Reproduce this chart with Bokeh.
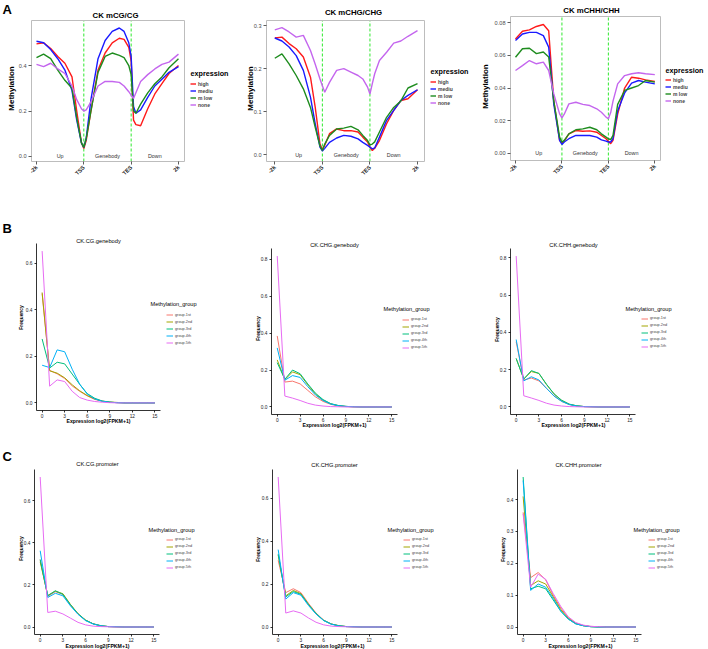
import math
from bokeh.plotting import figure
from bokeh.layouts import row, column
from bokeh.models import (Range1d, FixedTicker, PrintfTickFormatter, Label,
                          Legend, LegendItem)
from bokeh.embed import file_html
from bokeh.resources import INLINE

# ---------------------------------------------------------------- data
profile_ticks = [0, 20, 40, 60]
profile_tick_labels = ["-2k", "TSS", "TES", "2k"]
region_names = ["Up", "Genebody", "Down"]
region_centers = [10, 30, 50]
expression_levels = ["high", "mediu", "m low", "none"]

cg_pos = [0, 3, 6, 9, 12, 15, 17, 19, 20, 21, 23, 26, 29, 32, 35, 37, 39, 40, 41, 42, 44, 47, 50, 53, 56, 60]
cg_high = [0.495, 0.50, 0.475, 0.44, 0.41, 0.35, 0.20, 0.06, 0.035, 0.07, 0.20, 0.38, 0.455, 0.50, 0.52, 0.515, 0.48, 0.42, 0.16, 0.14, 0.135, 0.21, 0.275, 0.32, 0.365, 0.40]
cg_mediu = [0.507, 0.50, 0.47, 0.43, 0.38, 0.29, 0.16, 0.06, 0.04, 0.08, 0.25, 0.43, 0.51, 0.55, 0.565, 0.55, 0.50, 0.44, 0.22, 0.19, 0.205, 0.26, 0.31, 0.34, 0.37, 0.395]
cg_mlow = [0.435, 0.45, 0.43, 0.38, 0.335, 0.30, 0.17, 0.06, 0.04, 0.08, 0.20, 0.37, 0.44, 0.455, 0.445, 0.435, 0.40, 0.36, 0.20, 0.19, 0.23, 0.28, 0.32, 0.35, 0.39, 0.43]
cg_none = [0.405, 0.395, 0.41, 0.385, 0.365, 0.31, 0.25, 0.21, 0.20, 0.205, 0.24, 0.31, 0.33, 0.33, 0.326, 0.31, 0.285, 0.27, 0.255, 0.28, 0.33, 0.36, 0.385, 0.405, 0.415, 0.45]

chg_pos = [0, 3, 6, 9, 12, 15, 17, 19, 20, 21, 23, 26, 29, 32, 35, 37, 39, 40, 41, 42, 44, 47, 50, 53, 56, 60]
chg_high = [0.271, 0.273, 0.258, 0.246, 0.227, 0.18, 0.11, 0.025, 0.012, 0.022, 0.049, 0.06, 0.056, 0.056, 0.053, 0.041, 0.03, 0.018, 0.01, 0.015, 0.033, 0.072, 0.103, 0.126, 0.13, 0.151]
chg_mediu = [0.271, 0.264, 0.25, 0.23, 0.196, 0.134, 0.072, 0.018, 0.009, 0.015, 0.029, 0.039, 0.045, 0.043, 0.037, 0.029, 0.022, 0.018, 0.014, 0.016, 0.041, 0.08, 0.103, 0.126, 0.138, 0.151]
chg_mlow = [0.224, 0.234, 0.211, 0.184, 0.153, 0.11, 0.064, 0.02, 0.01, 0.025, 0.045, 0.06, 0.062, 0.066, 0.058, 0.045, 0.033, 0.023, 0.025, 0.03, 0.053, 0.087, 0.11, 0.125, 0.155, 0.165]
chg_none = [0.29, 0.295, 0.285, 0.273, 0.277, 0.242, 0.21, 0.176, 0.16, 0.145, 0.168, 0.196, 0.2, 0.192, 0.184, 0.176, 0.157, 0.141, 0.165, 0.188, 0.219, 0.238, 0.259, 0.264, 0.275, 0.288]

chh_pos = [0, 3, 6, 9, 12, 14.3, 16.5, 19, 20, 21, 23, 26, 29, 32, 35, 37, 39, 40, 41, 42, 44, 47, 50, 53, 56, 60]
chh_high = [0.070, 0.0747, 0.0755, 0.0776, 0.0788, 0.075, 0.032, 0.008, 0.0063, 0.0075, 0.012, 0.014, 0.0136, 0.0138, 0.013, 0.011, 0.009, 0.0075, 0.006, 0.008, 0.024, 0.040, 0.0466, 0.046, 0.045, 0.044]
chh_mediu = [0.069, 0.073, 0.074, 0.074, 0.072, 0.065, 0.030, 0.008, 0.0055, 0.007, 0.009, 0.011, 0.011, 0.011, 0.010, 0.0083, 0.0075, 0.007, 0.007, 0.009, 0.026, 0.037, 0.043, 0.0446, 0.0436, 0.0425]
chh_mlow = [0.0588, 0.064, 0.0643, 0.061, 0.062, 0.059, 0.032, 0.01, 0.0069, 0.008, 0.012, 0.0145, 0.015, 0.016, 0.0145, 0.012, 0.01, 0.009, 0.0085, 0.011, 0.030, 0.0385, 0.040, 0.0415, 0.0446, 0.0436]
chh_none = [0.0507, 0.0537, 0.0568, 0.0548, 0.0558, 0.0507, 0.0364, 0.0242, 0.0218, 0.024, 0.0303, 0.0313, 0.030, 0.0293, 0.0273, 0.0252, 0.0222, 0.0212, 0.025, 0.032, 0.0425, 0.0476, 0.0487, 0.0493, 0.0487, 0.0482]

expr_bins = list(range(16))
expr_ticks = [0, 3, 6, 9, 12, 15]
meth_groups = ["group.1st", "group.2nd", "group.3rd", "group.4th", "group.5th"]

gb_cg_1st = [0.47, 0.14, 0.125, 0.105, 0.073, 0.05, 0.03, 0.015, 0.007, 0.003, 0.001, 0, 0, 0, 0, 0]
gb_cg_2nd = [0.475, 0.138, 0.128, 0.108, 0.078, 0.052, 0.032, 0.017, 0.008, 0.004, 0.002, 0, 0, 0, 0, 0]
gb_cg_3rd = [0.275, 0.15, 0.175, 0.168, 0.124, 0.08, 0.04, 0.02, 0.008, 0.003, 0.001, 0, 0, 0, 0, 0]
gb_cg_4th = [0.162, 0.152, 0.228, 0.22, 0.145, 0.08, 0.038, 0.017, 0.007, 0.003, 0.001, 0, 0, 0, 0, 0]
gb_cg_5th = [0.653, 0.072, 0.099, 0.092, 0.05, 0.023, 0.012, 0.006, 0.003, 0.001, 0, 0, 0, 0, 0, 0]

gb_chg_1st = [0.385, 0.135, 0.14, 0.125, 0.09, 0.055, 0.03, 0.014, 0.006, 0.002, 0.001, 0, 0, 0, 0, 0]
gb_chg_2nd = [0.255, 0.148, 0.19, 0.175, 0.12, 0.07, 0.037, 0.017, 0.007, 0.003, 0.001, 0, 0, 0, 0, 0]
gb_chg_3rd = [0.24, 0.15, 0.2, 0.18, 0.125, 0.075, 0.04, 0.018, 0.008, 0.003, 0.001, 0, 0, 0, 0, 0]
gb_chg_4th = [0.32, 0.145, 0.17, 0.16, 0.11, 0.065, 0.035, 0.016, 0.007, 0.003, 0.001, 0, 0, 0, 0, 0]
gb_chg_5th = [0.818, 0.059, 0.048, 0.035, 0.02, 0.01, 0.005, 0.002, 0.001, 0, 0, 0, 0, 0, 0, 0]

gb_chh_1st = [0.35, 0.145, 0.155, 0.14, 0.1, 0.06, 0.03, 0.013, 0.005, 0.002, 0.001, 0, 0, 0, 0, 0]
gb_chh_2nd = [0.26, 0.15, 0.19, 0.18, 0.12, 0.07, 0.035, 0.015, 0.006, 0.002, 0.001, 0, 0, 0, 0, 0]
gb_chh_3rd = [0.26, 0.15, 0.195, 0.18, 0.122, 0.07, 0.036, 0.015, 0.006, 0.002, 0.001, 0, 0, 0, 0, 0]
gb_chh_4th = [0.362, 0.14, 0.162, 0.145, 0.1, 0.058, 0.03, 0.013, 0.005, 0.002, 0.001, 0, 0, 0, 0, 0]
gb_chh_5th = [0.81, 0.06, 0.048, 0.035, 0.02, 0.01, 0.005, 0.002, 0.001, 0, 0, 0, 0, 0, 0, 0]

pr_cg_1st = [0.32, 0.145, 0.168, 0.155, 0.105, 0.062, 0.032, 0.015, 0.006, 0.002, 0.001, 0, 0, 0, 0, 0]
pr_cg_2nd = [0.31, 0.15, 0.17, 0.158, 0.107, 0.063, 0.033, 0.015, 0.006, 0.002, 0.001, 0, 0, 0, 0, 0]
pr_cg_3rd = [0.32, 0.148, 0.172, 0.155, 0.105, 0.062, 0.032, 0.015, 0.006, 0.002, 0.001, 0, 0, 0, 0, 0]
pr_cg_4th = [0.362, 0.14, 0.16, 0.148, 0.1, 0.06, 0.03, 0.014, 0.006, 0.002, 0.001, 0, 0, 0, 0, 0]
pr_cg_5th = [0.712, 0.069, 0.075, 0.062, 0.042, 0.022, 0.01, 0.004, 0.002, 0.001, 0, 0, 0, 0, 0, 0]

pr_chg_1st = [0.31, 0.16, 0.178, 0.16, 0.11, 0.065, 0.032, 0.014, 0.006, 0.002, 0.001, 0, 0, 0, 0, 0]
pr_chg_2nd = [0.335, 0.145, 0.17, 0.155, 0.105, 0.062, 0.031, 0.014, 0.006, 0.002, 0.001, 0, 0, 0, 0, 0]
pr_chg_3rd = [0.34, 0.14, 0.165, 0.152, 0.105, 0.062, 0.031, 0.014, 0.006, 0.002, 0.001, 0, 0, 0, 0, 0]
pr_chg_4th = [0.36, 0.13, 0.16, 0.148, 0.1, 0.06, 0.03, 0.013, 0.005, 0.002, 0.001, 0, 0, 0, 0, 0]
pr_chg_5th = [0.698, 0.065, 0.075, 0.065, 0.042, 0.022, 0.01, 0.004, 0.002, 0.001, 0, 0, 0, 0, 0, 0]

pr_chh_1st = [0.36, 0.155, 0.171, 0.148, 0.1, 0.06, 0.03, 0.012, 0.005, 0.002, 0.001, 0, 0, 0, 0, 0]
pr_chh_2nd = [0.41, 0.13, 0.145, 0.135, 0.095, 0.055, 0.027, 0.011, 0.004, 0.001, 0, 0, 0, 0, 0, 0]
pr_chh_3rd = [0.471, 0.12, 0.128, 0.12, 0.085, 0.05, 0.025, 0.01, 0.004, 0.001, 0, 0, 0, 0, 0, 0]
pr_chh_4th = [0.46, 0.115, 0.135, 0.125, 0.09, 0.05, 0.025, 0.01, 0.004, 0.001, 0, 0, 0, 0, 0, 0]
pr_chh_5th = [0.355, 0.125, 0.166, 0.15, 0.105, 0.065, 0.032, 0.014, 0.006, 0.002, 0.001, 0, 0, 0, 0, 0]

# ---------------------------------------------------------------- style
FONT = "Liberation Sans"
EXPR_COLORS = ["#FF1A1A", "#1A1AFF", "#1E8C1E", "#C466EE"]
GROUP_COLORS = ["#F8766D", "#A3A500", "#00BF7D", "#00B0F6", "#E76BF3"]
TSS_COLOR = "#2EE82E"


class Panel:
    """One cell of the page; the visible plot box (frame) sits inside the cell and the
    axes are pinned to its edges so that all outer texts stay on the canvas."""

    def __init__(self, cell, frame, xr, yr):
        cx, cy, cw, ch = cell
        l, t, r, b = frame
        sx = (r - l) / (xr[1] - xr[0])
        sy = (b - t) / (yr[1] - yr[0])
        self.X = (xr[0] - (l - cx) / sx, xr[1] + (cx + cw - r) / sx)
        self.Y = (yr[0] - (cy + ch - b) / sy, yr[1] + (t - cy) / sy)
        self.cell, self.xr, self.yr = cell, xr, yr
        p = figure(width=cw, height=ch, x_range=Range1d(*self.X), y_range=Range1d(*self.Y),
                   min_border=0, min_border_left=0, min_border_right=0,
                   min_border_top=0, min_border_bottom=0,
                   toolbar_location=None, output_backend="svg", title=None)
        p.outline_line_color = None
        p.grid.visible = False
        p.background_fill_color = "white"
        p.border_fill_color = "white"
        p.xaxis.fixed_location = yr[0]
        p.yaxis.fixed_location = xr[0]
        p.xaxis.bounds = xr
        p.yaxis.bounds = yr
        self.p = p

    def dx(self, px):
        cx, cy, cw, ch = self.cell
        return self.X[0] + (px - cx) / cw * (self.X[1] - self.X[0])

    def dy(self, py):
        cx, cy, cw, ch = self.cell
        return self.Y[1] - (py - cy) / ch * (self.Y[1] - self.Y[0])

    def text(self, px, py, s, size, bold=False, angle=0.0, align="center", color="#000000"):
        self.p.add_layout(Label(x=self.dx(px), y=self.dy(py), text=s, text_font=FONT,
                                text_font_size=size, text_font_style="bold" if bold else "normal",
                                text_align=align, text_baseline="middle", angle=angle,
                                text_color=color))

    def legend(self, renderers, labels, key_left, first_center, item_h, size, glyph_w, bold):
        cx, cy, cw, ch = self.cell
        top = first_center - item_h / 2.0
        bottom = top + len(labels) * item_h
        items = [LegendItem(label=lab, renderers=[rr]) for lab, rr in zip(labels, renderers)]
        leg = Legend(items=items, location=(key_left - cx, cy + ch - bottom))
        leg.border_line_color = None
        leg.background_fill_alpha = 0
        leg.padding = 0
        leg.margin = 0
        leg.spacing = 0
        leg.glyph_width = glyph_w
        leg.glyph_height = int(round(item_h))
        leg.label_height = int(round(item_h))
        leg.label_standoff = 2
        leg.label_text_font = FONT
        leg.label_text_font_size = size
        leg.label_text_font_style = "bold" if bold else "normal"
        leg.label_text_baseline = "middle"
        self.p.add_layout(leg)


def style_axes(p, size, color, tick_color, tick_out, line_color, line_width):
    for ax in (p.xaxis[0], p.yaxis[0]):
        ax.axis_line_color = line_color
        ax.axis_line_width = line_width
        ax.major_tick_line_color = tick_color
        ax.major_tick_line_width = 0.8
        ax.major_tick_out = tick_out
        ax.major_tick_in = 0
        ax.minor_tick_out = 0
        ax.minor_tick_in = 0
        ax.major_label_text_font = FONT
        ax.major_label_text_font_size = size
        ax.major_label_text_color = color
        ax.major_label_standoff = 2


def profile_panel(cell, frame, xr, yr, yticks, fmt, pos, series, title, title_xy,
                  ylab_xy, leg_spec):
    pn = Panel(cell, frame, xr, yr)
    p = pn.p
    style_axes(p, "5.6px", "#4D4D4D", "#333333", 3, None, 1)
    p.yaxis.ticker = FixedTicker(ticks=yticks)
    p.yaxis.formatter = PrintfTickFormatter(format=fmt)
    p.xaxis.ticker = FixedTicker(ticks=profile_ticks)
    p.xaxis.major_label_overrides = {t: s for t, s in zip(profile_ticks, profile_tick_labels)}
    p.xaxis.major_label_orientation = math.pi / 4
    p.xaxis.major_label_text_font_style = "bold"
    p.xaxis.major_label_text_color = "#222222"
    bounds = profile_ticks[1:3]
    p.segment(x0=bounds, x1=bounds, y0=yr[0], y1=yr[1], line_color=TSS_COLOR,
              line_dash="3 2", line_width=1)
    rends = []
    for vals, col in zip(series, EXPR_COLORS):
        rends.append(p.line(pos, vals, line_color=col, line_width=1.4))
    p.quad(left=xr[0], right=xr[1], bottom=yr[0], top=yr[1], fill_color=None,
           line_color="#BDBDBD", line_width=1)
    for xc, nm in zip(region_centers, region_names):
        p.add_layout(Label(x=xc, y=0, text=nm, text_font=FONT, text_font_size="5.4px",
                           text_align="center", text_baseline="middle", text_color="#333333"))
    pn.text(title_xy[0], title_xy[1], title, "7.8px", bold=True)
    pn.text(ylab_xy[0], ylab_xy[1], "Methylation", "8px", bold=True, angle=math.pi / 2)
    (tx, ty), key_left, first_c, item_h = leg_spec
    pn.text(tx, ty, "expression", "7.2px", bold=True, align="left")
    pn.legend(rends, expression_levels, key_left, first_c, item_h, "5px", 6, True)
    return pn


def freq_panel(cell, frame, series, yticks, title, title_xy, ylab_xy, xlab_xy, leg_spec):
    ymax = max(max(s) for s in series)
    xr = (-0.75, 15.75)
    yr = (-0.05 * ymax, 1.05 * ymax)
    pn = Panel(cell, frame, xr, yr)
    p = pn.p
    style_axes(p, "4.8px", "#1A1A1A", "#000000", 2, "#000000", 0.8)
    p.xaxis.major_label_standoff = 1
    p.xaxis.ticker = FixedTicker(ticks=expr_ticks)
    p.yaxis.ticker = FixedTicker(ticks=yticks)
    p.yaxis.formatter = PrintfTickFormatter(format="%.1f")
    rends = []
    for vals, col in zip(series, GROUP_COLORS):
        rends.append(p.line(expr_bins, vals, line_color=col, line_width=1.0))
    pn.text(title_xy[0], title_xy[1], title, "5.7px")
    pn.text(ylab_xy[0], ylab_xy[1], "Frequency", "4.8px", bold=True, angle=math.pi / 2)
    pn.text(xlab_xy[0], xlab_xy[1], "Expression log2(FPKM+1)", "5.2px", bold=True)
    (tx, ty), key_left, first_c, item_h = leg_spec
    pn.text(tx, ty, "Methylation_group", "5.6px", align="left")
    pn.legend(rends, meth_groups, key_left, first_c, item_h, "3.8px", 7, False)
    return pn


# ---------------------------------------------------------------- row A
a1 = profile_panel((0, 0, 235, 195), (31, 20, 184, 161), (-2.11, 62.54), (-0.022, 0.598),
                   [0.0, 0.2, 0.4], "%.1f", cg_pos, [cg_high, cg_mediu, cg_mlow, cg_none],
                   "CK mCG/CG", (115, 15), (11, 88), ((190, 72.7), 190, 84, 6.9))
a2 = profile_panel((235, 0, 235, 195), (266, 20, 424, 161), (-3.49, 62.94), (-0.0155, 0.3116),
                   [0.0, 0.1, 0.2, 0.3], "%.1f", chg_pos, [chg_high, chg_mediu, chg_mlow, chg_none],
                   "CK mCHG/CHG", (353, 12), (250, 88), ((430, 71), 430, 83, 6.7))
a3 = profile_panel((470, 0, 238, 195), (510, 16, 660, 160), (-2.15, 62.45), (-0.0043, 0.0837),
                   [0.0, 0.02, 0.04, 0.06, 0.08], "%.2f", chh_pos, [chh_high, chh_mediu, chh_mlow, chh_none],
                   "CK mCHH/CHH", (591, 10), (485, 86), ((665, 70), 665, 81, 6.7))
a1.text(2, 9, "A", "13px", bold=True, align="left")

# ---------------------------------------------------------------- row B
b1 = freq_panel((0, 195, 235, 235), (36, 243, 160, 410),
                [gb_cg_1st, gb_cg_2nd, gb_cg_3rd, gb_cg_4th, gb_cg_5th], [0.0, 0.2, 0.4, 0.6],
                "CK.CG.genebody", (98, 240.5), (21, 317), (98, 420), ((150, 303), 166, 313.5, 7.3))
b2 = freq_panel((235, 195, 235, 235), (271, 248, 397, 414),
                [gb_chg_1st, gb_chg_2nd, gb_chg_3rd, gb_chg_4th, gb_chg_5th], [0.0, 0.2, 0.4, 0.6, 0.8],
                "CK.CHG.genebody", (334, 244), (258, 328), (334, 424), ((383, 308), 402, 319, 7.0))
b3 = freq_panel((470, 195, 238, 235), (510, 248, 635, 414),
                [gb_chh_1st, gb_chh_2nd, gb_chh_3rd, gb_chh_4th, gb_chh_5th], [0.0, 0.2, 0.4, 0.6, 0.8],
                "CK.CHH.genebody", (573, 244), (497, 329), (573, 424), ((625, 308), 641, 318, 7.0))
b1.text(2, 228, "B", "13px", bold=True, align="left")

# ---------------------------------------------------------------- row C
c1 = freq_panel((0, 430, 235, 219), (34, 469, 159, 634),
                [pr_cg_1st, pr_cg_2nd, pr_cg_3rd, pr_cg_4th, pr_cg_5th], [0.0, 0.2, 0.4, 0.6],
                "CK.CG.promoter", (97, 463), (21, 548), (97, 645), ((148, 529), 166, 539, 7.0))
c2 = freq_panel((235, 430, 235, 219), (272, 469, 397, 634),
                [pr_chg_1st, pr_chg_2nd, pr_chg_3rd, pr_chg_4th, pr_chg_5th], [0.0, 0.2, 0.4, 0.6],
                "CK.CHG.promoter", (334, 464), (258, 549), (332, 645), ((387, 529), 403, 539, 7.0))
c3 = freq_panel((470, 430, 238, 219), (517, 469, 641, 634),
                [pr_chh_1st, pr_chh_2nd, pr_chh_3rd, pr_chh_4th, pr_chh_5th], [0.0, 0.1, 0.2, 0.3, 0.4],
                "CK.CHH.promoter", (578, 464), (503, 549), (580, 645), ((633, 529), 648, 539, 7.0))
c1.text(2, 456, "C", "13px", bold=True, align="left")

layout = column(row(a1.p, a2.p, a3.p), row(b1.p, b2.p, b3.p), row(c1.p, c2.p, c3.p))

open("out.html", "w").write(file_html(layout, INLINE))
